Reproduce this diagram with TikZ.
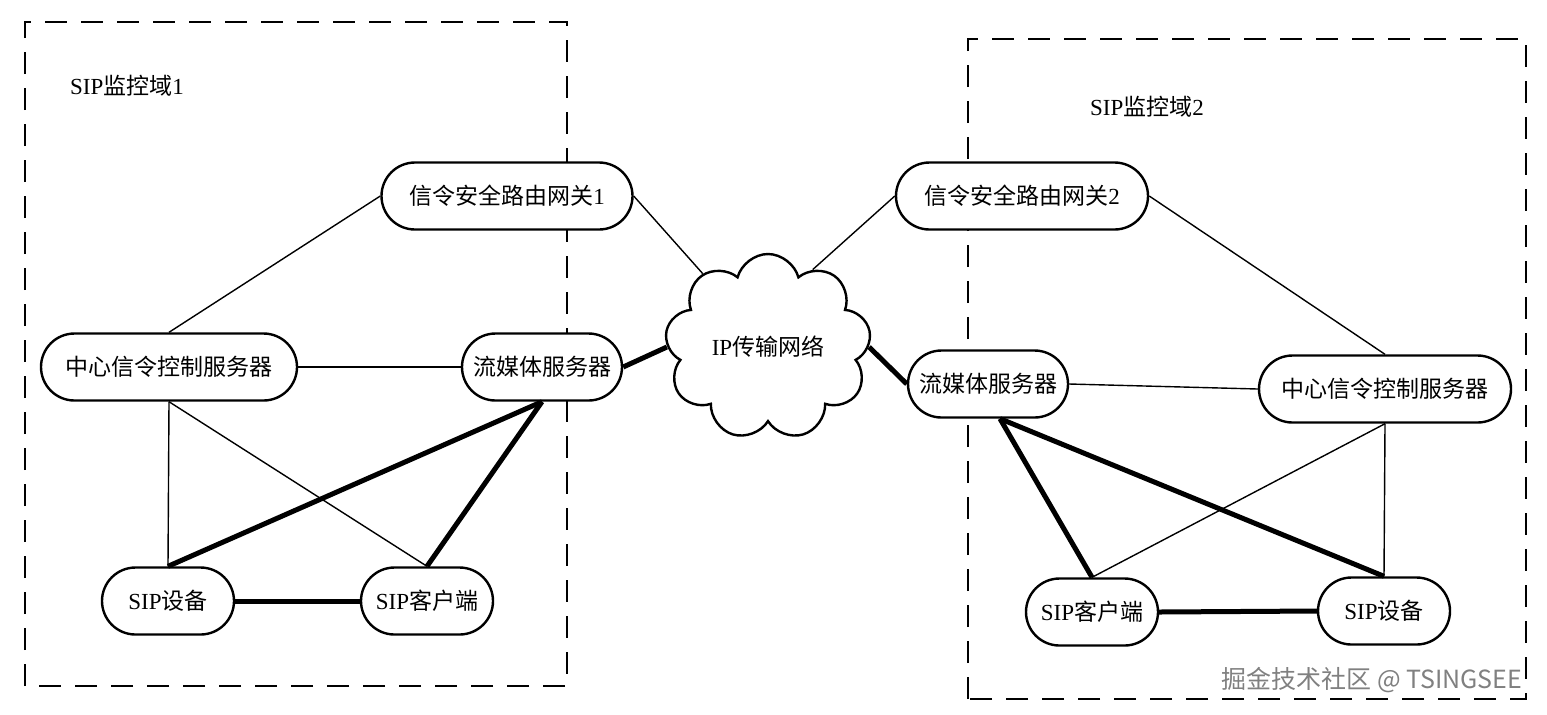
\documentclass[tikz,border=0pt]{standalone}
\usepackage{fontspec}
\setmainfont{Liberation Serif}
\newfontfamily\cjk{Noto Sans CJK SC}
\usetikzlibrary{shapes.misc,shapes.symbols}

\begin{document}
\begin{tikzpicture}[x=0.5pt,y=-0.5pt,
  box/.style={rounded rectangle,draw,line width=1.2pt,minimum height=33.5pt,
    inner xsep=2pt,fill=white,font=\fontsize{11.5}{13}\selectfont},
  sig/.style={line width=0.7pt},
  media/.style={line width=2.5pt},
  zone/.style={line width=1.4pt,dash pattern=on 11pt off 7pt}
]
  \useasboundingbox (0,0) rectangle (1547,714);

  % the two monitoring domains
  \draw[zone] (25,686) -- (25,22) -- (567,22) -- (567,686) -- cycle;
  \draw[zone] (968,699) -- (968,39) -- (1526,39) -- (1526,699) -- cycle;
  \node[anchor=west,font=\fontsize{11.5}{13}\selectfont] (dom1) at (63,86) {SIP{\cjk 监控域}1};
  \node[anchor=west,font=\fontsize{11.5}{13}\selectfont] (dom2) at (1083,107) {SIP{\cjk 监控域}2};

  % domain 1
  \node[box,minimum width=129.5pt] (gw1) at (507,196) {{\cjk 信令安全路由网关}1};
  \node[box,minimum width=132pt] (lc) at (169,367) {\cjk 中心信令控制服务器};
  \node[box,minimum width=84pt] (ls) at (542,367) {\cjk 流媒体服务器};
  \node[box,minimum width=70pt] (ld) at (168,601) {SIP{\cjk 设备}};
  \node[box,minimum width=70pt] (lcl) at (427,601) {SIP{\cjk 客户端}};

  % transport network
  \node[cloud,draw,line width=1.2pt,fill=white,cloud puffs=9,aspect=1.2,
    minimum width=100pt,minimum height=85pt,
    font=\fontsize{11.5}{13}\selectfont] (net) at (768,347) {IP{\cjk 传输网络}};

  % domain 2
  \node[box,minimum width=130pt] (gw2) at (1022,196) {{\cjk 信令安全路由网关}2};
  \node[box,minimum width=84pt] (rs) at (988,384) {\cjk 流媒体服务器};
  \node[box,minimum width=130pt] (rc) at (1385,389) {\cjk 中心信令控制服务器};
  \node[box,minimum width=70pt] (rcl) at (1092,612) {SIP{\cjk 客户端}};
  \node[box,minimum width=70pt] (rd) at (1384,611) {SIP{\cjk 设备}};

  % signalling links
  \draw[sig] (gw1.west) -- (lc.north);
  \draw[sig] (gw1.east) -- (net);
  \draw[sig] (gw2.west) -- (net.60);
  \draw[sig] (gw2.east) -- (rc.north);
  \draw[sig] (lc.east) -- (ls.west);
  \draw[sig] (lc.south) -- (ld.north);
  \draw[sig] (lc.south) -- (lcl.north);
  \draw[sig] (rs.east) -- (rc.west);
  \draw[sig] (rc.south) -- (rd.north);
  \draw[sig] (rc.south) -- (rcl.north);

  % media links
  \draw[media] (ls.south) -- (ld.north);
  \draw[media] (ls.south) -- (lcl.north);
  \draw[media] (ls.east) -- (net.west);
  \draw[media] (net.east) -- (rs.west);
  \draw[media] ([xshift=6pt]rs.south) -- (rcl.north);
  \draw[media] ([xshift=6pt]rs.south) -- (rd.north);
  \draw[media] (ld.east) -- (lcl.west);
  \draw[media] (rcl.east) -- (rd.west);

  \node[gray,font=\cjk\fontsize{12.5}{14}\selectfont] (mark) at (1372,680) {掘金技术社区 @ TSINGSEE};
\end{tikzpicture}
\end{document}
